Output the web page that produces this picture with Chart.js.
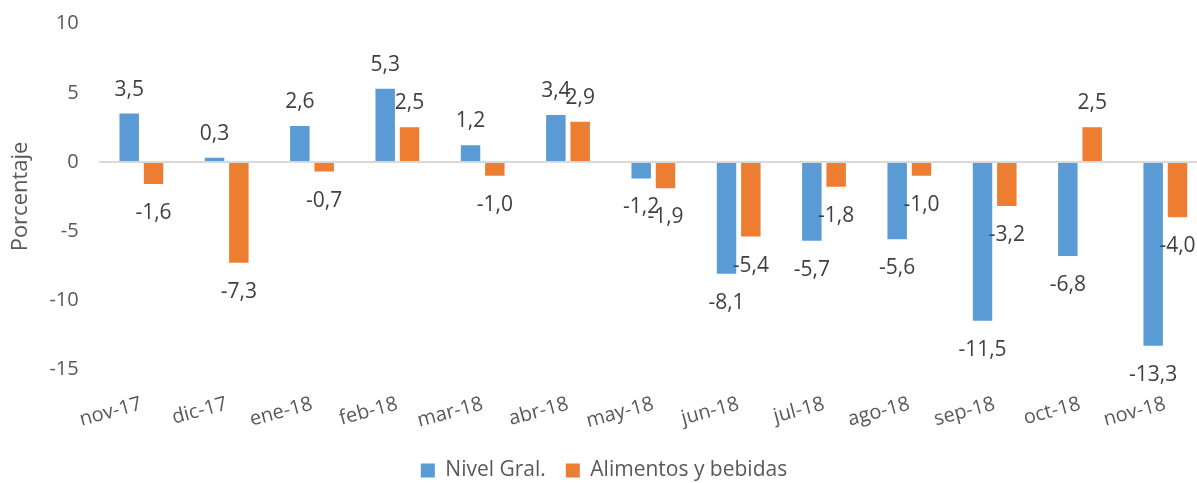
<!DOCTYPE html>
<html>
<head>
<meta charset="utf-8">
<script src="https://cdn.jsdelivr.net/npm/chart.js@4.4.0/dist/chart.umd.min.js"></script>
<style>
  html, body { margin: 0; padding: 0; background: #fff; overflow: hidden; }
  /* a bit wider/taller than the window: the original is cropped on the right and bottom */
  #wrap { position: relative; width: 1210px; height: 491px; }
</style>
</head>
<body>
<div id="wrap"><canvas id="chart"></canvas></div>
<script>
const months = ['nov-17', 'dic-17', 'ene-18', 'feb-18', 'mar-18', 'abr-18', 'may-18',
  'jun-18', 'jul-18', 'ago-18', 'sep-18', 'oct-18', 'nov-18'];
const nivelGral = [3.5, 0.3, 2.6, 5.3, 1.2, 3.4, -1.2, -8.1, -5.7, -5.6, -11.5, -6.8, -13.3];
const alimentos = [-1.6, -7.3, -0.7, 2.5, -1.0, 2.9, -1.9, -5.4, -1.8, -1.0, -3.2, 2.5, -4.0];
const yMin = -15, yMax = 10, yStep = 5;

const FONT = '"Open Sans"';
const fmt = v => v.toFixed(1).replace('.', ',');

// Excel style "outside end" labels
const barLabels = {
  id: 'barLabels',
  afterDatasetsDraw(chart) {
    const ctx = chart.ctx;
    ctx.save();
    ctx.font = '21px ' + FONT;
    ctx.fillStyle = '#404040';
    ctx.textAlign = 'center';
    ctx.textBaseline = 'middle';
    chart.data.datasets.forEach((ds, i) => {
      chart.getDatasetMeta(i).data.forEach((bar, j) => {
        const v = ds.data[j];
        const y = v >= 0 ? bar.y - 24 : bar.y + 29;
        ctx.fillText(fmt(v), bar.x, y);
      });
    });
    ctx.restore();
  }
};

const ctx = document.getElementById('chart');
new Chart(ctx, {
  type: 'bar',
  data: {
    labels: months,
    datasets: [
      {
        label: 'Nivel Gral.',
        data: nivelGral,
        backgroundColor: '#5B9BD5',
        categoryPercentage: 0.57,
        barPercentage: 0.8,
      },
      {
        label: 'Alimentos y bebidas',
        data: alimentos,
        backgroundColor: '#ED7D31',
        categoryPercentage: 0.57,
        barPercentage: 0.8,
      },
    ],
  },
  options: {
    responsive: true,
    maintainAspectRatio: false,
    animation: false,
    layout: { padding: { top: 23.7, right: 2, left: 0, bottom: 0 } },
    scales: {
      y: {
        min: yMin,
        max: yMax,
        afterFit: (s) => { s.width = 98.7; s.paddingTop = 0; s.paddingBottom = 0; },
        ticks: { stepSize: yStep, padding: 20, color: '#595959', font: { family: FONT, size: 20 } },
        grid: {
          drawTicks: false,
          // only the zero line is drawn
          color: (c) => c.tick && c.tick.value === 0 ? '#D9D9D9' : 'rgba(0,0,0,0)',
          lineWidth: 2,
        },
        border: { display: false },
        title: {
          display: true,
          text: 'Porcentaje',
          color: '#595959',
          font: { family: FONT, size: 22 },
          padding: { top: 8, bottom: 0 },
        },
      },
      x: {
        afterFit: (s) => { s.height = 70.8; },
        grid: { display: false, drawTicks: false },
        border: { display: false },
        ticks: {
          minRotation: 15,
          maxRotation: 15,
          padding: 23,
          color: '#595959',
          font: { family: FONT, size: 20 },
        },
      },
    },
    plugins: {
      legend: {
        position: 'bottom',
        labels: {
          boxWidth: 14,
          boxHeight: 14,
          padding: 20,
          color: '#595959',
          font: { family: FONT, size: 21 },
        },
      },
      tooltip: { enabled: false },
    },
  },
  plugins: [barLabels],
});
</script>
</body>
</html>
